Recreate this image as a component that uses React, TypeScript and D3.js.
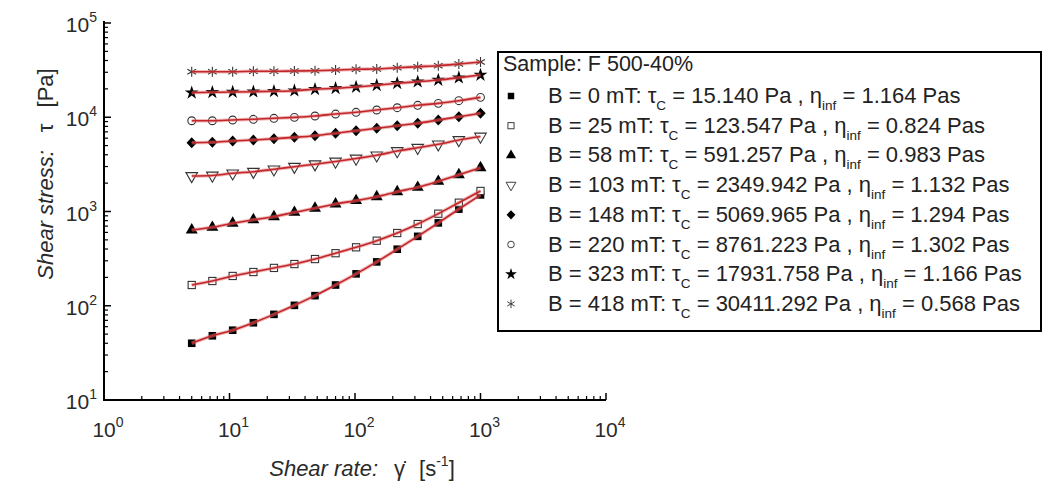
import React from "react";
import * as d3 from "d3";

// Shear rate (1/s) of each measured point
const shearRate = [5, 7.3, 10.6, 15.5, 22.6, 32.9, 48, 70, 102, 149, 217, 316, 461, 672, 1000];

// Shear stress (Pa) for each magnetic flux density
const stressB0 = [40, 48, 55, 66, 81, 101, 128, 166, 218, 292, 398, 545, 757, 1060, 1500];
const stressB25 = [166, 183, 207, 228, 252, 277, 313, 361, 417, 490, 591, 736, 948, 1240, 1652];
const stressB58 = [637, 680, 750, 819, 881, 981, 1082, 1202, 1304, 1436, 1622, 1806, 2091, 2455, 2916];
const stressB103 = [2383, 2411, 2542, 2643, 2803, 2988, 3176, 3394, 3651, 3946, 4383, 4750, 5163, 5739, 6249];
const stressB148 = [5370, 5420, 5595, 5737, 5920, 6120, 6370, 6755, 7200, 7630, 8130, 8620, 9350, 10140, 11010];
const stressB220 = [9180, 9180, 9350, 9510, 9745, 9980, 10310, 10820, 11290, 11940, 12620, 13390, 14050, 14990, 16260];
const stressB323 = [18200, 18390, 18530, 18670, 18850, 19140, 19810, 20300, 20940, 21830, 22920, 23840, 24850, 26300, 28070];
const stressB418 = [30400, 30400, 30400, 30740, 30740, 30980, 31200, 31720, 32280, 32500, 33570, 34390, 35230, 36720, 38560];

// Legend contents
const fieldB = ["0", "25", "58", "103", "148", "220", "323", "418"];
const tauC = ["15.140", "123.547", "591.257", "2349.942", "5069.965", "8761.223", "17931.758", "30411.292"];
const etaInf = ["1.164", "0.824", "0.983", "1.132", "1.294", "1.302", "1.166", "0.568"];
const markers = ["sqFill", "sqOpen", "triFill", "triDownOpen", "diamond", "circleOpen", "star", "asterisk"];
const sampleName = "Sample: F 500-40%";

const xTickExps = [0, 1, 2, 3, 4];
const yTickExps = [1, 2, 3, 4, 5];

const series = [stressB0, stressB25, stressB58, stressB103, stressB148, stressB220, stressB323, stressB418];

const FONT = "'Liberation Sans', Arial, sans-serif";

const x = d3.scaleLog().domain([1, 1e4]).range([104, 606]);
const y = d3.scaleLog().domain([10, 1e5]).range([400, 23]);

function Marker({ kind, cx, cy, s = 1 }: { kind: string; cx: number; cy: number; s?: number }) {
  const t = `translate(${cx},${cy}) scale(${s})`;
  switch (kind) {
    case "sqFill":
      return <rect transform={t} x={-3.8} y={-3.8} width={7.6} height={7.6} fill="#000" />;
    case "sqOpen":
      return <rect transform={t} x={-3.6} y={-3.6} width={7.2} height={7.2} fill="#fff" stroke="#333" strokeWidth={1.1} />;
    case "triFill":
      return <path transform={t} d={d3.symbol(d3.symbolTriangle, 62)()!} fill="#000" />;
    case "triDownOpen":
      return (
        <path transform={t + " rotate(180)"} d={d3.symbol(d3.symbolTriangle, 58)()!} fill="#fff" stroke="#333" strokeWidth={1.1} />
      );
    case "diamond":
      return <path transform={t} d="M0,-5.5L5.2,0L0,5.5L-5.2,0Z" fill="#000" />;
    case "circleOpen":
      return <circle transform={t} r={3.9} fill="#fff" stroke="#333" strokeWidth={1.1} />;
    case "star":
      return <path transform={t} d={d3.symbol(d3.symbolStar, 60)()!} fill="#000" />;
    case "asterisk": {
      const r = 5;
      const angs = [90, 30, -30];
      return (
        <g transform={t} stroke="#333" strokeWidth={1.1}>
          {angs.map((a) => {
            const rad = (a * Math.PI) / 180;
            const dx = r * Math.cos(rad);
            const dy = r * Math.sin(rad);
            return <line key={a} x1={-dx} y1={-dy} x2={dx} y2={dy} />;
          })}
        </g>
      );
    }
    default:
      return null;
  }
}

function Pow({ exp, tx, ty, anchor }: { exp: number; tx: number; ty: number; anchor: "middle" | "end" }) {
  return (
    <text x={tx} y={ty} fontFamily={FONT} fontSize={21} fill="#2a2a2a" textAnchor={anchor}>
      10
      <tspan fontSize={14} dy={-10}>
        {exp}
      </tspan>
    </text>
  );
}

export default function App() {
  const line = d3
    .line<[number, number]>()
    .x((d) => x(d[0]))
    .y((d) => y(d[1]))
    .curve(d3.curveMonotoneX);

  const minorX: number[] = [];
  for (let e = 0; e < 4; e++) for (let k = 2; k <= 9; k++) minorX.push(k * 10 ** e);
  const minorY: number[] = [];
  for (let e = 1; e < 5; e++) for (let k = 2; k <= 9; k++) minorY.push(k * 10 ** e);

  const legX = 498;
  const legY = 52;
  const legW = 543;
  const legH = 279;
  const rowY0 = 103;
  const rowDy = 29.7;
  const legFont = 22;

  return (
    <svg width={1044} height={484} style={{ position: "absolute", left: 0, top: 0, background: "#fff" }}>
      {/* markers */}
      {series.map((s, i) => (
        <g key={"m" + i}>
          {s.map((v, j) => (
            <Marker key={j} kind={markers[i]} cx={x(shearRate[j])} cy={y(v)} />
          ))}
        </g>
      ))}
      {/* fitted curves */}
      {series.map((s, i) => (
        <g key={"l" + i}>
          <path
            d={line(shearRate.map((r, j) => [r, s[j]] as [number, number]))!}
            fill="none"
            stroke="#e57373"
            strokeOpacity={0.5}
            strokeWidth={3.6}
          />
          <path
            d={line(shearRate.map((r, j) => [r, s[j]] as [number, number]))!}
            fill="none"
            stroke="#c0262a"
            strokeWidth={1.6}
          />
        </g>
      ))}

      {/* axes */}
      <line x1={104} y1={400} x2={606} y2={400} stroke="#000" strokeWidth={2} />
      <line x1={104} y1={401} x2={104} y2={21} stroke="#000" strokeWidth={2} />
      {xTickExps.map((e) => (
        <line key={"xt" + e} x1={x(10 ** e)} x2={x(10 ** e)} y1={400} y2={393} stroke="#000" strokeWidth={1.5} />
      ))}
      {minorX.map((v) => (
        <line key={"xm" + v} x1={x(v)} x2={x(v)} y1={400} y2={396} stroke="#000" strokeWidth={1.2} />
      ))}
      {yTickExps.map((e) => (
        <line key={"yt" + e} x1={104} x2={111} y1={y(10 ** e)} y2={y(10 ** e)} stroke="#000" strokeWidth={1.5} />
      ))}
      {minorY.map((v) => (
        <line key={"ym" + v} x1={104} x2={108} y1={y(v)} y2={y(v)} stroke="#000" strokeWidth={1.2} />
      ))}

      {xTickExps.map((e) => (
        <Pow key={"xl" + e} exp={e} tx={x(10 ** e) + 4} ty={437} anchor="middle" />
      ))}
      {yTickExps.map((e) => (
        <Pow key={"yl" + e} exp={e} tx={97} ty={y(10 ** e) + 9} anchor="end" />
      ))}

      {/* axis titles */}
      <text x={362} y={476} fontFamily={FONT} fontSize={22} fill="#2a2a2a" textAnchor="middle">
        <tspan fontStyle="italic">Shear rate:</tspan>
        <tspan dx={16}>γ̇</tspan>
        <tspan dx={14}>[s</tspan>
        <tspan fontSize={14} dy={-10}>-1</tspan>
        <tspan dy={10}>]</tspan>
      </text>
      <text
        transform={`translate(53,174) rotate(-90)`}
        fontFamily={FONT}
        fontSize={22}
        fill="#2a2a2a"
        textAnchor="middle"
      >
        <tspan fontStyle="italic">Shear stress:</tspan>
        <tspan dx={18}>τ</tspan>
        <tspan dx={16}>[Pa]</tspan>
      </text>

      {/* legend */}
      <rect x={legX} y={legY} width={legW} height={legH} fill="#fff" stroke="#000" strokeWidth={2} />
      <text x={503} y={71} fontFamily={FONT} fontSize={21.5} fill="#222">
        {sampleName}
      </text>
      {fieldB.map((b, i) => {
        const ry = rowY0 + i * rowDy;
        return (
          <g key={"lg" + i}>
            <Marker kind={markers[i]} cx={511} cy={ry - 7} s={0.85} />
            <text x={548} y={ry} fontFamily={FONT} fontSize={legFont} fill="#222">
              {`B = ${b} mT: τ`}
              <tspan fontSize={13.5} dy={7}>C</tspan>
              <tspan dy={-7}>{` = ${tauC[i]} Pa , η`}</tspan>
              <tspan fontSize={13.5} dy={7}>inf</tspan>
              <tspan dy={-7}>{` = ${etaInf[i]} Pas`}</tspan>
            </text>
          </g>
        );
      })}
    </svg>
  );
}
